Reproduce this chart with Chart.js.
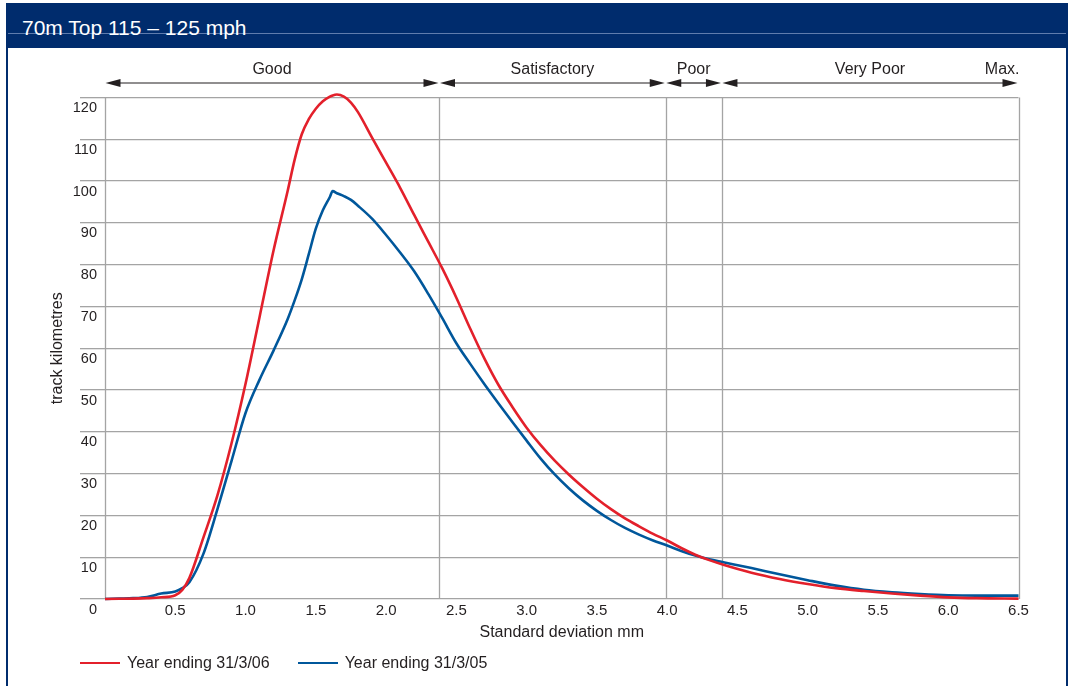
<!DOCTYPE html>
<html><head><meta charset="utf-8">
<script src="https://cdn.jsdelivr.net/npm/chart.js@4.4.0/dist/chart.umd.min.js"></script>
<style>
html,body{margin:0;padding:0;background:#fff;width:1072px;height:686px;overflow:hidden;font-family:"Liberation Sans",Arial,sans-serif;}
#frameL{position:absolute;left:6px;top:3px;width:2px;height:690px;background:#002c6d;}
#frameR{position:absolute;left:1066px;top:3px;width:2px;height:690px;background:#002c6d;}
#bar{position:absolute;left:6px;top:3px;width:1062px;height:45px;background:#002c6d;}
#barline{position:absolute;left:0;top:30px;width:100%;height:1px;background:#5f7cad;}
#title{position:absolute;left:16px;top:14px;color:#fff;font-size:21px;line-height:21px;white-space:nowrap;}
#wrap{position:absolute;left:0;top:0;width:1072px;height:686px;}
#legend{position:absolute;left:80px;top:653px;height:20px;display:flex;align-items:center;font-size:16px;color:#231f20;white-space:nowrap;}
.item{display:flex;align-items:center;margin-right:28px;}
.swatch{width:40px;height:2.5px;margin-right:7px;}
</style>
</head>
<body>
<div id="bar"><div id="barline"></div><div id="title">70m Top 115 – 125 mph</div></div>
<div id="frameL"></div><div id="frameR"></div>
<div id="wrap"><canvas id="c" width="1072" height="686"></canvas></div>
<div id="legend"></div>
<script>
// ---- data ----
const sdValues = [0,0.1,0.2,0.3,0.4,0.5,0.55,0.6,0.7,0.8,0.9,1.0,1.1,1.2,1.3,1.35,1.4,1.45,1.5,1.55,1.6,1.62,1.65,1.7,1.75,1.8,1.9,2.0,2.1,2.2,2.3,2.4,2.5,2.6,2.7,2.8,2.9,3.0,3.1,3.2,3.3,3.4,3.5,3.6,3.7,3.8,3.9,4.0,4.1,4.2,4.3,4.4,4.6,4.8,5.0,5.2,5.4,5.6,5.8,6.0,6.2,6.5];
const km2006 = [0,0.05,0.1,0.2,0.4,0.9,2.2,5.0,14.7,24.8,37.2,51.5,67.5,83.5,97.7,105.2,111.2,114.8,117.3,119.1,120.2,120.5,120.7,120.2,118.8,116.5,110.4,104.4,98.4,91.9,85.5,79.1,72.1,64.6,57.5,51.2,45.9,41,36.8,33.1,29.8,26.8,24.0,21.5,19.3,17.4,15.6,14.0,12.2,10.6,9.3,8.2,6.3,4.8,3.6,2.6,1.9,1.3,0.8,0.4,0.2,0.1];
const km2005 = [0,0.1,0.2,0.5,1.3,1.8,2.6,4.0,10.8,21.5,33,44.5,52.5,59.5,67.0,71.5,76.5,82.5,88.6,93.0,96.2,97.6,97.1,96.4,95.5,94.1,91.0,87.1,82.9,78.4,73.0,67.2,61.2,56.2,51.4,46.8,42.3,37.9,33.6,29.8,26.5,23.6,21.1,18.9,17.0,15.4,14.0,12.8,11.5,10.4,9.5,8.8,7.4,5.9,4.5,3.2,2.2,1.6,1.2,0.9,0.8,0.8];
const seriesNames = ['Year ending 31/3/06','Year ending 31/3/05'];
const seriesColors = ['#e3202b','#00579b'];
const bandEdges = [0, 2.38, 3.99, 4.39, 6.5];
const bandLabels = ['Good','Satisfactory','Poor','Very Poor'];
const endLabel = 'Max.';
const xTitle = 'Standard deviation mm';
const yTitle = 'track kilometres';

const FONT = '"Liberation Sans", Arial, sans-serif';
const TXT = '#231f20';
const GRID = '#a4a4a4';

const bandPlugin = {
  id:'bands',
  beforeDatasetsDraw(chart){
    const {ctx, chartArea, scales:{x}} = chart;
    ctx.save();
    ctx.strokeStyle = GRID; ctx.lineWidth = 1.3;
    bandEdges.forEach(e=>{
      const px = Math.round(x.getPixelForValue(e))+0.5;
      ctx.beginPath(); ctx.moveTo(px, chartArea.top); ctx.lineTo(px, chartArea.bottom); ctx.stroke();
    });
    ctx.restore();
  },
  afterDraw(chart){
    const {ctx, scales:{x}} = chart;
    const ay = 83, ly = 70, hl = 15, hh = 4;
    ctx.save();
    ctx.fillStyle = TXT; ctx.strokeStyle = TXT; ctx.lineWidth = 1.2;
    ctx.font = '16px ' + FONT; ctx.textBaseline = 'middle';
    for (let i=0;i<bandLabels.length;i++){
      const x0 = x.getPixelForValue(bandEdges[i]) + 0.5;
      const x1 = x.getPixelForValue(bandEdges[i+1]) - 1;
      ctx.beginPath(); ctx.moveTo(x0+hl-2, ay); ctx.lineTo(x1-hl+2, ay); ctx.stroke();
      ctx.beginPath(); ctx.moveTo(x0, ay); ctx.lineTo(x0+hl, ay-hh); ctx.lineTo(x0+hl, ay+hh); ctx.closePath(); ctx.fill();
      ctx.beginPath(); ctx.moveTo(x1, ay); ctx.lineTo(x1-hl, ay-hh); ctx.lineTo(x1-hl, ay+hh); ctx.closePath(); ctx.fill();
      ctx.textAlign = 'center';
      ctx.fillText(bandLabels[i], (x0+x1)/2, ly);
    }
    ctx.textAlign = 'right';
    ctx.fillText(endLabel, x.getPixelForValue(bandEdges[bandEdges.length-1])+1, ly);
    ctx.restore();
  }
};

const chart = new Chart(document.getElementById('c'), {
  type:'line',
  data:{
    datasets:[
      {label:seriesNames[0], data:sdValues.map((v,i)=>({x:v,y:km2006[i]})), borderColor:seriesColors[0], borderWidth:2.6, pointRadius:0, cubicInterpolationMode:'monotone', fill:false, clip:false},
      {label:seriesNames[1], data:sdValues.map((v,i)=>({x:v,y:km2005[i]})), borderColor:seriesColors[1], borderWidth:2.6, pointRadius:0, cubicInterpolationMode:'monotone', fill:false, clip:false}
    ]
  },
  options:{
    responsive:false, animation:false, events:[],
    layout:{padding:{left:48, right:53.5, top:97.5, bottom:44}},
    plugins:{legend:{display:false}, tooltip:{enabled:false}},
    scales:{
      x:{type:'linear', min:0, max:6.5,
        grid:{display:false, drawTicks:false}, border:{display:false},
        ticks:{stepSize:0.5, autoSkip:false, maxRotation:0, padding:3, color:TXT, font:{family:FONT,size:15},
          callback:v=> v===0 ? '' : v.toFixed(1)},
        title:{display:true, text:xTitle, color:TXT, font:{family:FONT,size:16}, padding:{top:0,bottom:0}},
        afterFit:s=>{s.height = 43;}
      },
      y:{min:0, max:120,
        grid:{color:GRID, lineWidth:1.3, tickLength:25, drawTicks:true, tickColor:GRID},
        border:{display:false},
        ticks:{stepSize:10, padding:-17, labelOffset:10.5, color:TXT, font:{family:FONT,size:14.5}},
        title:{display:true, text:yTitle, color:TXT, font:{family:FONT,size:16}, padding:{top:0,bottom:0}},
        afterFit:s=>{s.width = 57;}
      }
    }
  },
  plugins:[bandPlugin]
});

// legend built from the chart's datasets
const lg = document.getElementById('legend');
chart.data.datasets.forEach(ds=>{
  const it = document.createElement('div'); it.className='item';
  const sw = document.createElement('div'); sw.className='swatch'; sw.style.background = ds.borderColor;
  const tx = document.createElement('span'); tx.textContent = ds.label;
  it.appendChild(sw); it.appendChild(tx); lg.appendChild(it);
});
</script>
</body></html>
